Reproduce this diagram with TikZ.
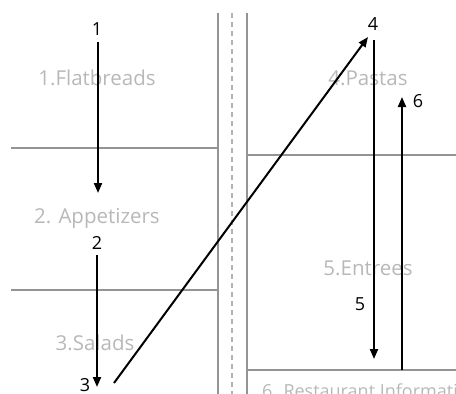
\documentclass[tikz,border=0pt]{standalone}
\usepackage{fontspec}
\setmainfont{Open Sans}
\usetikzlibrary{arrows.meta}
\begin{document}
\begin{tikzpicture}[x=1pt,y=-1pt,
  grid/.style={draw=black!42,line width=2pt},
  dashline/.style={draw=black!30,line width=2pt,dash pattern=on 5pt off 4pt},
  menu/.style={text=black!28,font=\fontsize{20.5}{22}\selectfont,inner sep=0pt,anchor=base},
  num/.style={text=black,font=\fontsize{18}{20}\selectfont,inner sep=0pt,anchor=base},
  flow/.style={draw=black,line width=2pt,-{Triangle[length=10pt,width=8pt]}}]
\useasboundingbox (0,0) rectangle (456,394);
\clip (0,0) rectangle (456,394);
% structure lines
\coordinate (vl1) at (218,13); \coordinate (vl2) at (218,394);
\coordinate (vd1) at (232,13); \coordinate (vd2) at (232,394);
\coordinate (vr1) at (247,13); \coordinate (vr2) at (247,394);
\coordinate (h1a) at (11,148); \coordinate (h1b) at (218,148);
\coordinate (h2a) at (11,290); \coordinate (h2b) at (218,290);
\coordinate (h3a) at (247,155); \coordinate (h3b) at (456,155);
\coordinate (h4a) at (247,370); \coordinate (h4b) at (456,370);
\draw[grid] (vl1) -- (vl2);
\draw[dashline] (vd1) -- (vd2);
\draw[grid] (vr1) -- (vr2);
\draw[grid] (h1a) -- (h1b);
\draw[grid] (h2a) -- (h2b);
\draw[grid] (h3a) -- (h3b);
\draw[grid] (h4a) -- (h4b);
% menu labels
\node[menu] (flat) at (97,85) {1.Flatbreads};
\node[menu] (app) at (97,223) {2. Appetizers};
\node[menu] (sal) at (95,350) {3.Salads};
\node[menu] (pas) at (368,85) {4.Pastas};
\node[menu] (ent) at (368,275) {5.Entrees};
\node[menu,anchor=base west,font=\fontsize{18}{20}\selectfont] (rest) at (262,397) {6. Restaurant Information};
% arrows
\coordinate (a1s) at (98,42); \coordinate (a1e) at (98,193);
\coordinate (a2s) at (97,255); \coordinate (a2e) at (97,387);
\coordinate (a3s) at (114,383); \coordinate (a3e) at (368,37);
\coordinate (a5s) at (374,40); \coordinate (a5e) at (374,359);
\coordinate (a6s) at (402,370); \coordinate (a6e) at (402,97);
\draw[flow] (a1s) -- (a1e);
\draw[flow] (a2s) -- (a2e);
\draw[flow] (a3s) -- (a3e);
\draw[flow] (a5s) -- (a5e);
\draw[flow] (a6s) -- (a6e);
% numbers
\node[num] (n1) at (97,35) {1};
\node[num] (n2) at (97,249) {2};
\node[num] (n3) at (85,391) {3};
\node[num] (n4) at (373,30) {4};
\node[num] (n5) at (360,310) {5};
\node[num] (n6) at (418,107) {6};
\end{tikzpicture}
\end{document}
